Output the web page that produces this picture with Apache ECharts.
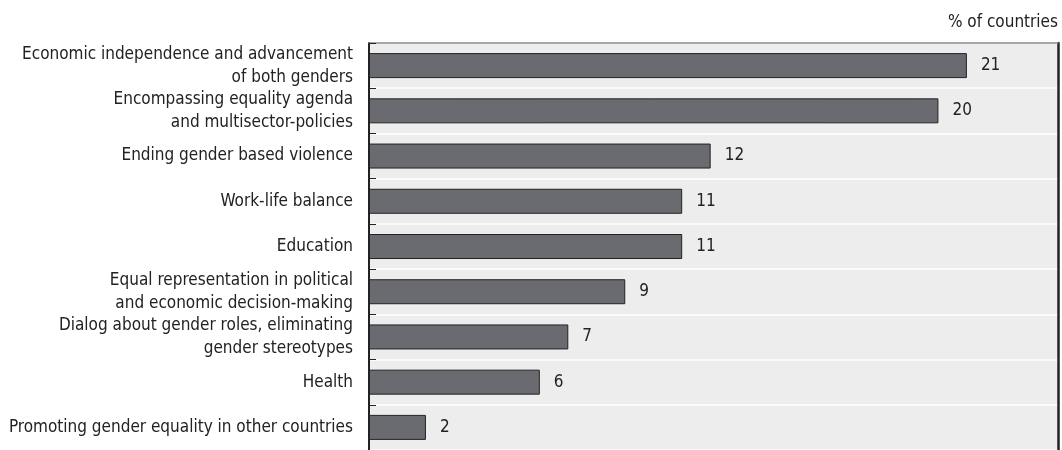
<!DOCTYPE html>
<html>
<head>
<meta charset="utf-8">
<script src="https://cdn.jsdelivr.net/npm/echarts@6/dist/echarts.min.js"></script>
<style>
  html, body { margin: 0; padding: 0; background: #fff; }
  #chart { width: 1062px; height: 450px; }
</style>
</head>
<body>
<div id="chart"></div>
<script>
// Policy priorities, share of countries (%)
const categories = [
  'Economic independence and advancement\nof both genders',
  'Encompassing equality agenda\nand multisector-policies',
  'Ending gender based violence',
  'Work-life balance',
  'Education',
  'Equal representation in political\nand economic decision-making',
  'Dialog about gender roles, eliminating\ngender stereotypes',
  'Health',
  'Promoting gender equality in other countries'
];
const values = [21, 20, 12, 11, 11, 9, 7, 6, 2];
const unitLabel = '% of countries';

const FONT = "'DejaVu Sans Condensed', 'Liberation Sans Narrow', sans-serif";
const TEXT = '#222';

const chart = echarts.init(document.getElementById('chart'), null, { renderer: 'canvas' });
chart.setOption({
  animation: false,
  backgroundColor: '#fff',
  title: {
    text: unitLabel,
    right: 4,
    top: 14,
    padding: 0,
    textStyle: { fontFamily: FONT, fontSize: 17, fontWeight: 'normal', color: TEXT }
  },
  grid: {
    left: 369, right: 4, top: 43, height: 411.75,
    show: true, backgroundColor: '#ededed', borderWidth: 0
  },
  xAxis: [{
    type: 'value', min: 0, max: 24.2, position: 'top',
    axisLine: { show: true, lineStyle: { color: '#8a8a8a', width: 1.5 } },
    axisTick: { show: false }, axisLabel: { show: false }, splitLine: { show: false }
  }],
  yAxis: [{
    type: 'category', data: categories, inverse: true,
    axisLine: { show: true, lineStyle: { color: '#222', width: 2 } },
    axisTick: { show: true, inside: true, length: 7, lineStyle: { color: '#222', width: 1 } },
    splitLine: { show: true, lineStyle: { color: '#fff', width: 1.5 } },
    axisLabel: {
      interval: 0, margin: 16, fontFamily: FONT, fontSize: 17, color: TEXT,
      lineHeight: 23, align: 'right'
    }
  }, {
    type: 'category', data: categories, inverse: true, position: 'right',
    axisLine: { show: true, lineStyle: { color: '#222', width: 2.5 } },
    axisTick: { show: false }, axisLabel: { show: false }, splitLine: { show: false }
  }],
  series: [{
    type: 'bar', data: values, barWidth: 25,
    itemStyle: { color: '#6a6b70', borderColor: '#222', borderWidth: 1 },
    label: {
      show: true, position: 'right', distance: 14,
      fontFamily: FONT, fontSize: 17, color: TEXT
    }
  }]
});
</script>
</body>
</html>
